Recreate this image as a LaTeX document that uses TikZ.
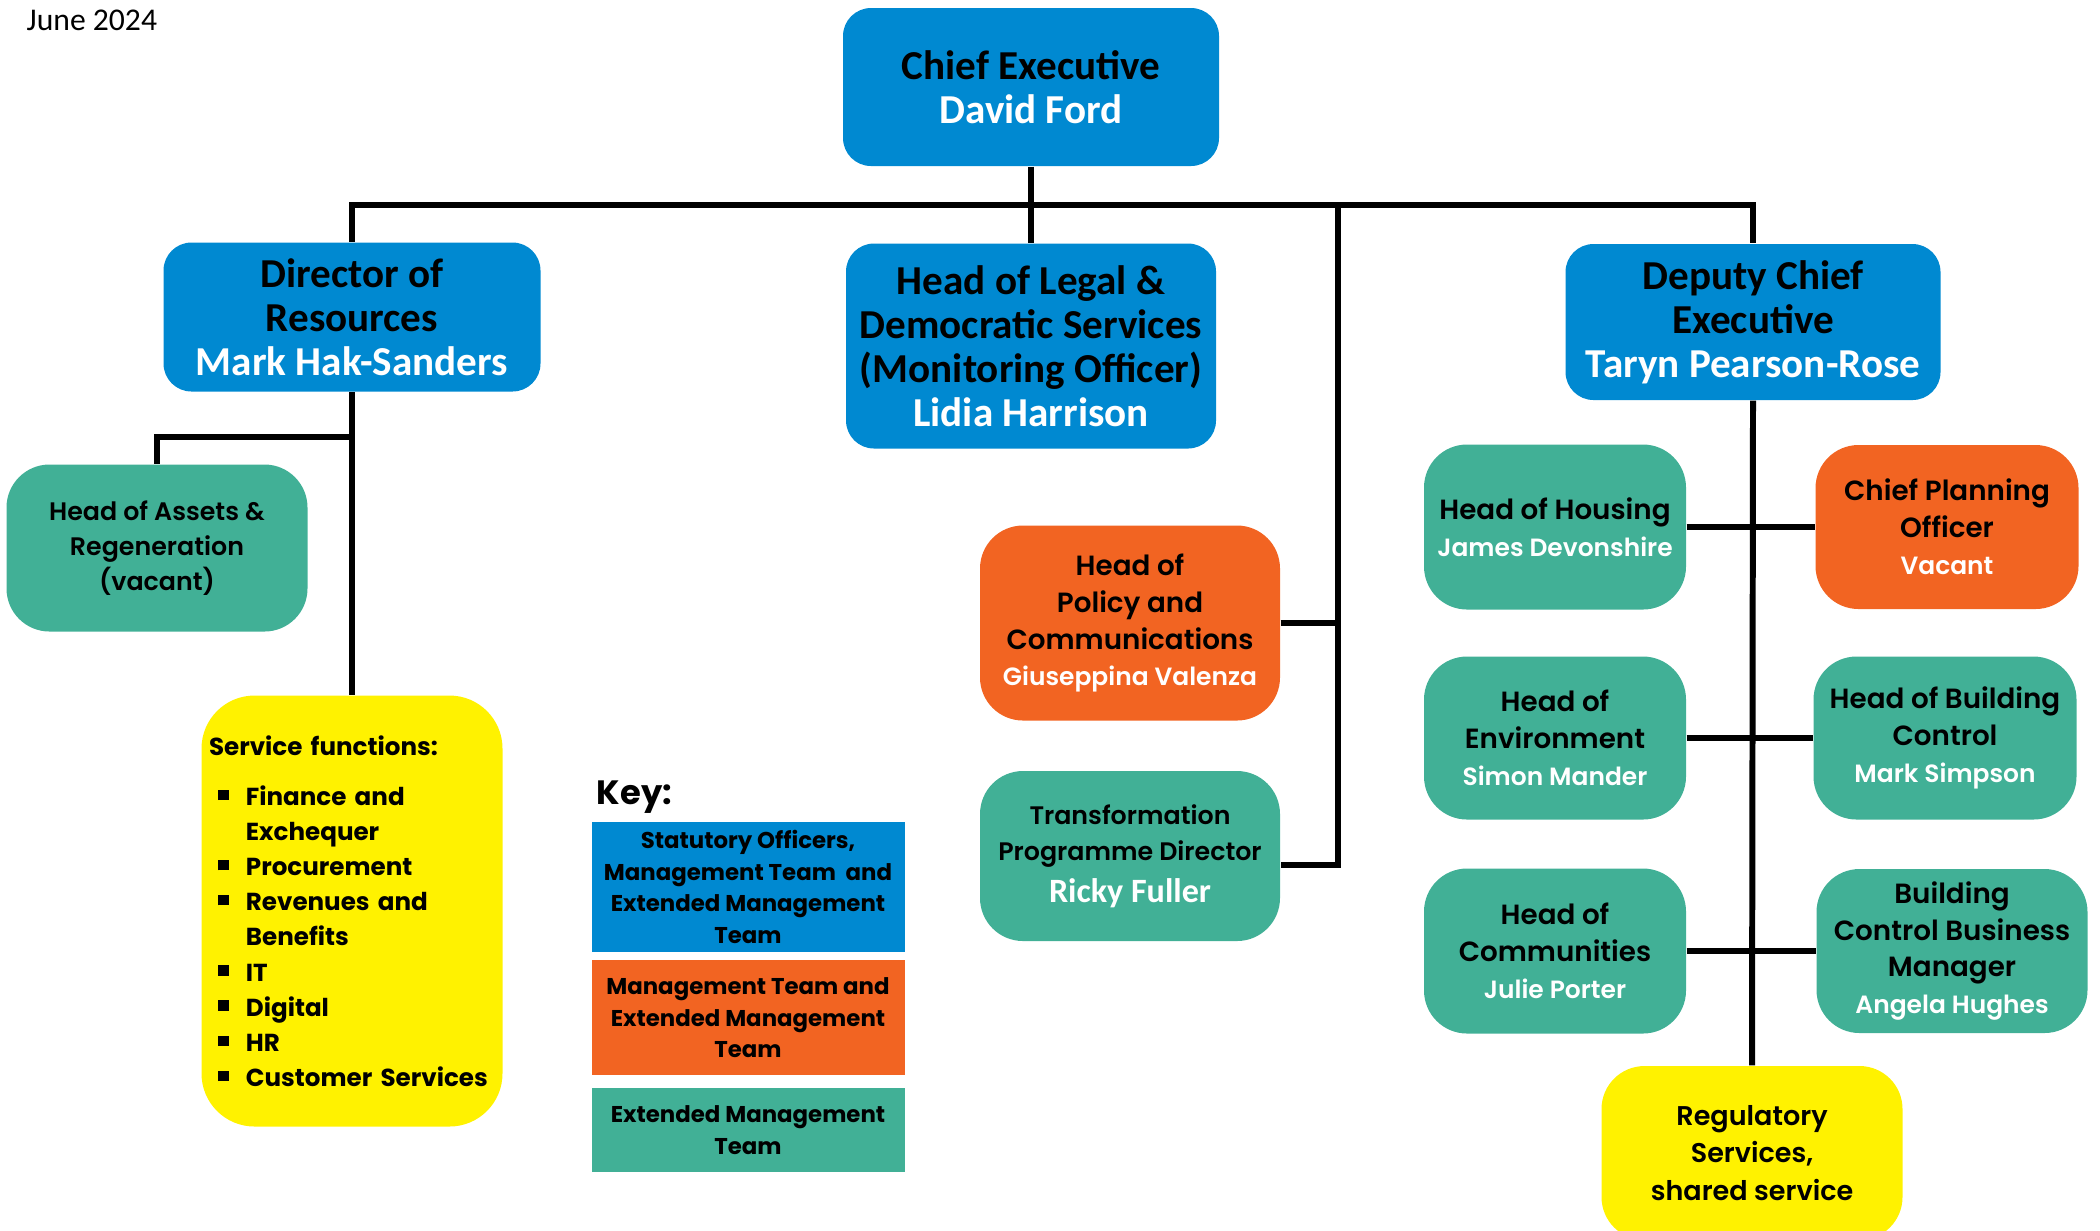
\documentclass[tikz,border=0pt]{standalone}
\usepackage{fontspec}
\setmainfont{Poppins}[BoldFont={Poppins SemiBold}]
\newfontfamily\heavyfont{Poppins}[UprightFont={* Bold}]
\newfontfamily\calfont{Carlito}
\usetikzlibrary{positioning}

\definecolor{cblue}{HTML}{0089D1}
\definecolor{corange}{HTML}{F26422}
\definecolor{cteal}{HTML}{41B096}
\definecolor{cyellow}{HTML}{FFF200}

\newcommand{\nm}[1]{\textcolor{white}{#1}}
\newcommand{\snm}[1]{{\fontsize{7.1}{10.5}\selectfont\nm{#1}}}
\newcommand{\itm}{\makebox[10.5pt][l]{\hspace*{2.6pt}\rule[1.5pt]{3pt}{3pt}}}
\newcommand{\cnt}{\hspace*{10.5pt}}

\begin{document}
\begin{tikzpicture}[x=0.1mm, y=-0.1mm,
    box/.style={rounded corners=4.3mm, align=center, inner sep=0pt, font=\bfseries\fontsize{7.9}{10.5}\selectfont},
    bluebox/.style={box, fill=cblue, rounded corners=2.8mm, font=\calfont\bfseries\fontsize{11.7}{12.5}\selectfont},
    tealbox/.style={box, fill=cteal},
    orangebox/.style={box, fill=corange},
    yellowbox/.style={box, fill=cyellow},
    keybox/.style={align=center, inner sep=0pt, minimum width=31.3mm, font=\heavyfont\fontsize{6.5}{9}\selectfont},
    boxsize/.style 2 args={minimum width=#1*0.1mm, minimum height=#2*0.1mm},
    link/.style={line width=1.7pt}]
    \useasboundingbox (0,0) rectangle (2100,1230);

    \node[anchor=base west, inner sep=0pt, font=\calfont\fontsize{9}{10}\selectfont] (date) at (26,30) {June 2024};

    % Chief Executive and directors
    \node[bluebox, boxsize={376}{158}] (ceo) at (1031,87) {Chief Executive\\\nm{David Ford}};
    \node[bluebox, boxsize={377}{149}] (dor) at (352,317) {Director of\\Resources\\\nm{Mark Hak-Sanders}};
    \node[bluebox, boxsize={370}{205}] (legal) at (1031,346) {Head of Legal \&\\Democratic Services\\(Monitoring Officer)\\\nm{Lidia Harrison}};
    \node[bluebox, boxsize={375}{156}] (dcx) at (1753,322) {Deputy Chief\\Executive\\\nm{Taryn Pearson-Rose}};

    % Resources
    \node[tealbox, boxsize={301}{167}, font=\bfseries\fontsize{7.2}{10}\selectfont] (ast) at (157,548) {Head of Assets \&\\Regeneration\\(vacant)};
    \node[yellowbox, boxsize={301}{431}, rounded corners=5.3mm, align=left, text width=28.6mm, font=\heavyfont\fontsize{7}{10}\selectfont] (svc) at (352,911)
        {Service functions:\\[4.3pt]
         \itm Finance and\\ \cnt Exchequer\\ \itm Procurement\\ \itm Revenues and\\ \cnt Benefits\\
         \itm IT\\ \itm Digital\\ \itm HR\\ \itm Customer Services};

    % Reporting to the Chief Executive
    \node[orangebox, boxsize={300}{195}] (pol) at (1130,623) {Head of\\Policy and\\Communications\\\snm{Giuseppina Valenza}};
    \node[tealbox, boxsize={300}{170}, font=\bfseries\fontsize{7.2}{10.3}\selectfont] (tpd) at (1130,856) {Transformation\\Programme Director\\[1.5pt]{\calfont\fontsize{9.7}{12}\selectfont\nm{Ricky Fuller}}};

    % Deputy Chief Executive
    \node[tealbox, boxsize={262}{165}] (hou) at (1555,527) {Head of Housing\\\snm{James Devonshire}};
    \node[orangebox, boxsize={263}{164}] (cpo) at (1947,527) {Chief Planning\\Officer\\\snm{Vacant}};
    \node[tealbox, boxsize={262}{163}] (env) at (1555,738) {Head of\\Environment\\\snm{Simon Mander}};
    \node[tealbox, boxsize={263}{163}] (bcc) at (1945,738) {Head of Building\\Control\\\snm{Mark Simpson}};
    \node[tealbox, boxsize={262}{165}] (com) at (1555,951) {Head of\\Communities\\\snm{Julie Porter}};
    \node[tealbox, boxsize={271}{164}] (bcm) at (1952,951) {Building\\Control Business\\Manager\\\snm{Angela Hughes}};
    \node[yellowbox, boxsize={301}{174}, font=\bfseries\fontsize{7.7}{10.7}\selectfont] (reg) at (1752,1153) {Regulatory\\Services,\\shared service};

    % Key
    \node[anchor=base west, inner sep=0pt, font=\heavyfont\fontsize{9.6}{12}\selectfont] (key) at (596,804) {Key:};
    \node[keybox, fill=cblue, minimum height=13mm] (k1) at (748,887) {Statutory Officers,\\Management Team\ \ and\\Extended Management\\Team};
    \node[keybox, fill=corange, minimum height=11.5mm, below=0.7mm of k1] (k2) {Management Team and\\Extended Management\\Team};
    \node[keybox, fill=cteal, minimum height=8.4mm, below=1.1mm of k2] (k3) {Extended Management\\Team};

    % Lines
    \coordinate (bus) at (1031,205);
    \coordinate (pspine) at (1338,205);
    \coordinate (abr) at (352,437);
    \draw[link] (ceo.south) -- (legal.north);
    \draw[link] (dor.north) |- (bus) -| (dcx.north);
    \draw[link] (pspine) |- ([yshift=-0.9mm]tpd.east);
    \draw[link] (pol.east) -- (pol.east -| pspine);
    \draw[link] (dor.south) -- (svc.north);
    \draw[link] (abr) -| (ast.north);
    \draw[link] (dcx.south) -- (reg.north);
    \draw[link] (hou.east) -- (cpo.west);
    \draw[link] (env.east) -- (bcc.west);
    \draw[link] (com.east) -- (bcm.west);
\end{tikzpicture}
\end{document}
